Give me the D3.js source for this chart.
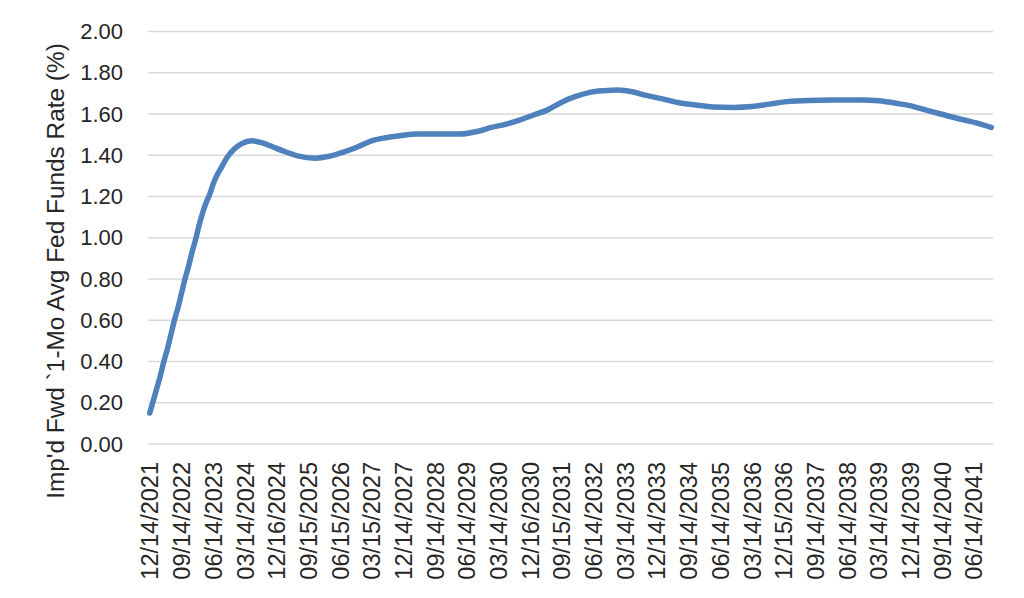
<!DOCTYPE html>
<html><head><meta charset="utf-8">
<script src="https://cdn.jsdelivr.net/npm/d3@7"></script>
<style>
html,body{margin:0;padding:0;background:#fff;}
svg{display:block;}
text{font-family:"Liberation Sans",Arial,sans-serif;fill:#262626;}
</style></head><body>
<svg id="c" width="1024" height="598"></svg>
<script>
// month (YYYY-MM) of each reading and the implied rate (%)
const months = ["2021-12","2022-01","2022-02","2022-03","2022-04","2022-05","2022-06","2022-07","2022-08","2022-09","2022-10","2022-11","2022-12","2023-01","2023-02","2023-03","2023-04","2023-05","2023-06","2023-07","2023-08","2023-10","2023-12","2024-02","2024-05","2024-08","2024-11","2025-02","2025-06","2025-11","2026-03","2026-07","2026-11","2027-03","2027-07","2027-11","2028-04","2028-10","2029-04","2029-09","2030-01","2030-05","2030-09","2031-01","2031-05","2031-09","2032-01","2032-05","2032-09","2033-01","2033-05","2033-09","2034-01","2034-06","2034-11","2035-04","2035-10","2036-03","2036-08","2037-01","2037-07","2038-02","2038-10","2039-03","2039-08","2040-01","2040-05","2040-10","2041-03","2041-07","2041-11"];
const rates = [0.15,0.21,0.27,0.33,0.40,0.46,0.53,0.60,0.66,0.73,0.80,0.86,0.93,0.99,1.06,1.12,1.17,1.21,1.26,1.30,1.33,1.39,1.43,1.455,1.47,1.46,1.44,1.42,1.397,1.386,1.395,1.415,1.44,1.47,1.485,1.495,1.503,1.503,1.503,1.515,1.535,1.55,1.57,1.595,1.62,1.657,1.685,1.705,1.713,1.716,1.708,1.69,1.676,1.656,1.644,1.634,1.632,1.636,1.648,1.66,1.666,1.668,1.668,1.664,1.652,1.636,1.616,1.594,1.572,1.556,1.535];
const tickLabels = ["12/14/2021","09/14/2022","06/14/2023","03/14/2024","12/16/2024","09/15/2025","06/15/2026","03/15/2027","12/14/2027","09/14/2028","06/14/2029","03/14/2030","12/16/2030","09/15/2031","06/14/2032","03/14/2033","12/14/2033","09/14/2034","06/14/2035","03/14/2036","12/15/2036","09/14/2037","06/14/2038","03/14/2039","12/14/2039","09/14/2040","06/14/2041"];
const yTicks = [0,0.2,0.4,0.6,0.8,1.0,1.2,1.4,1.6,1.8,2.0];
const yTitle = "Imp'd Fwd `1-Mo Avg Fed Funds Rate (%)";
const startMonth = "2021-12";
const nMonths = 240;
const labelEvery = 9;

function monthIndex(s){
  const [y,m] = s.split("-").map(Number);
  const [y0,m0] = startMonth.split("-").map(Number);
  return (y-y0)*12 + (m-m0);
}
const data = months.map((m,i)=>({i:monthIndex(m), v:rates[i]}));

const svg = d3.select("#c");
const L=148, R=993, T=31.5, B=444;
const x = d3.scaleLinear().domain([0,nMonths]).range([L,R]);
const y = d3.scaleLinear().domain([0,2]).range([B,T]);

// gridlines
svg.append("g").selectAll("line").data(yTicks).join("line")
  .attr("x1",L).attr("x2",R)
  .attr("y1",d=>y(d)).attr("y2",d=>y(d))
  .attr("stroke","#d9d9d9").attr("stroke-width",1.5);

// y axis
const ya = svg.append("g").attr("transform",`translate(${L},0)`)
  .call(d3.axisLeft(y).tickValues(yTicks).tickFormat(d3.format(".2f")).tickSize(0).tickPadding(25));
ya.select(".domain").remove();
ya.selectAll("text").style("font-size","22px").attr("fill","#262626").attr("font-family",null);

// x axis
const tickIdx = tickLabels.map((_,k)=>k*labelEvery);
const xa = svg.append("g").attr("transform",`translate(0,${B})`)
  .call(d3.axisBottom(x).tickValues(tickIdx.map(i=>i+0.5)).tickFormat((d,k)=>tickLabels[k]).tickSize(0));
xa.select(".domain").remove();
xa.selectAll("text")
  .style("font-size","23.5px").attr("fill","#262626").attr("font-family",null)
  .attr("text-anchor","end")
  .attr("transform","rotate(-90)")
  .attr("x",-18).attr("y",0).attr("dy","0.35em");

// y title
svg.append("text")
  .attr("transform","translate(64,271) rotate(-90)")
  .attr("text-anchor","middle")
  .style("font-size","24.4px")
  .text(yTitle);

// line
svg.append("path").datum(data)
  .attr("fill","none").attr("stroke","#4f81bd").attr("stroke-width",5.5)
  .attr("stroke-linecap","round").attr("stroke-linejoin","round")
  .attr("d", d3.line().x(d=>x(d.i+0.5)).y(d=>y(d.v)).curve(d3.curveMonotoneX));
</script>
</body></html>
